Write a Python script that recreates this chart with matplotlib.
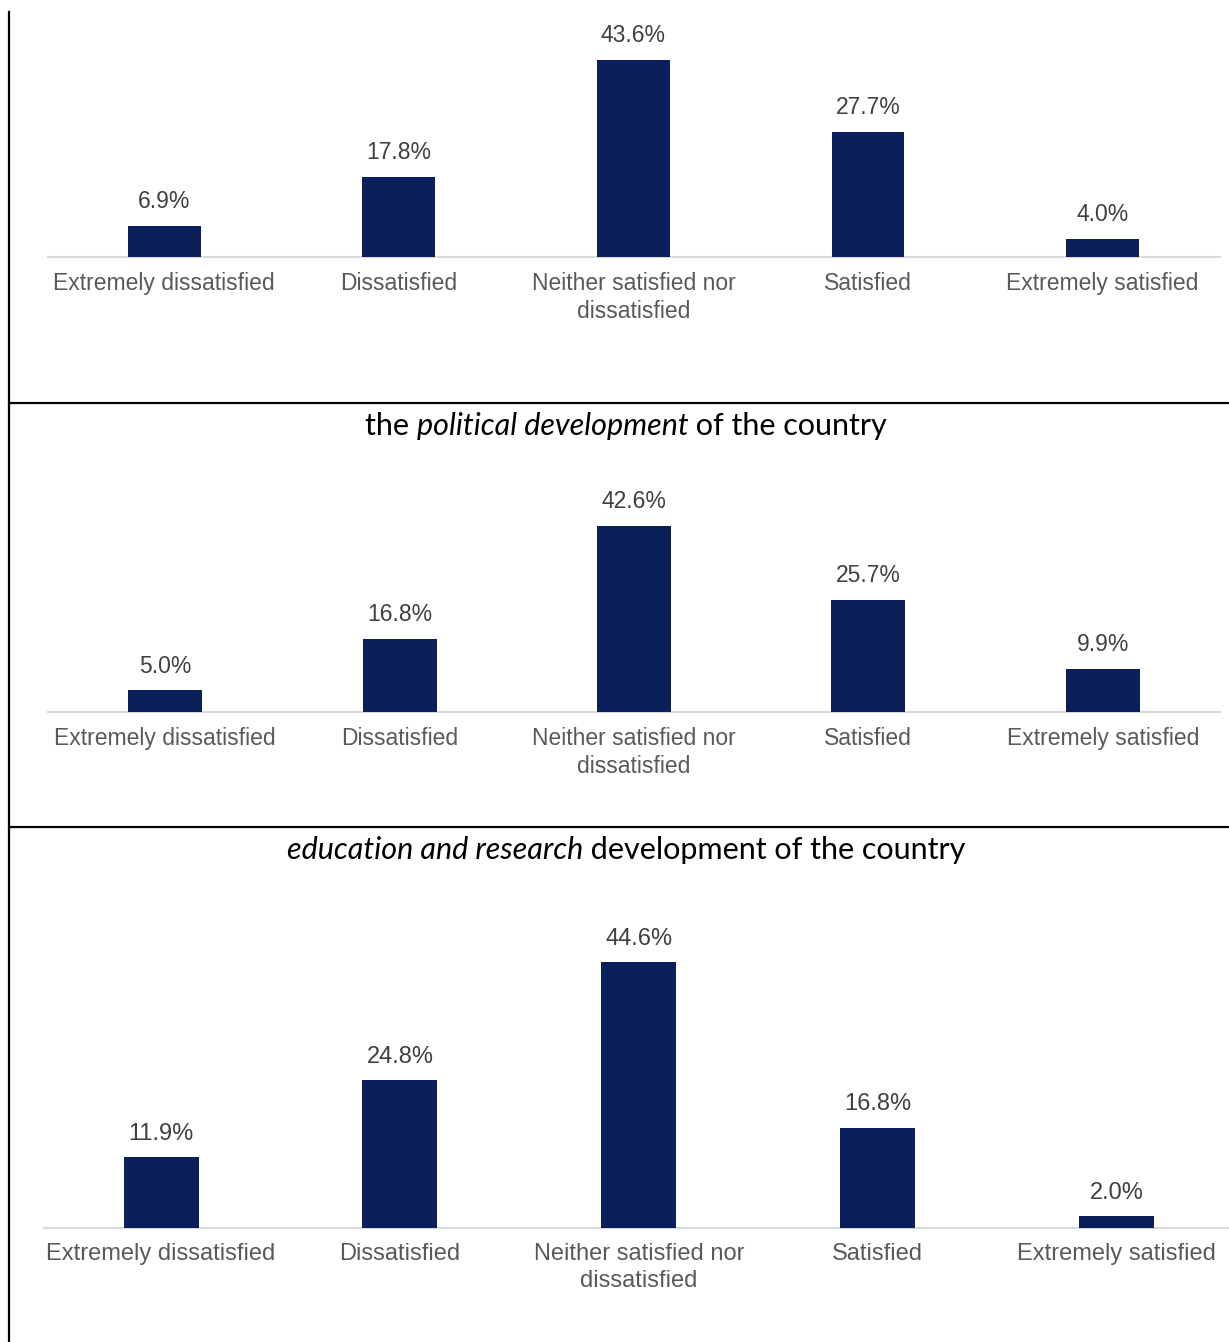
import matplotlib
matplotlib.use("Agg")
import matplotlib.pyplot as plt
from matplotlib.lines import Line2D

W, H = 1229, 1342

categories = ["Extremely dissatisfied", "Dissatisfied",
              "Neither satisfied nor\ndissatisfied", "Satisfied",
              "Extremely satisfied"]
first_vals = [6.9, 17.8, 43.6, 27.7, 4.0]
political_vals = [5.0, 16.8, 42.6, 25.7, 9.9]
education_vals = [11.9, 24.8, 44.6, 16.8, 2.0]

political_title = [("the ", "normal"), ("political development", "italic"),
                   (" of the country", "normal")]
education_title = [("education and research", "italic"),
                   (" development of the country", "normal")]

BAR = "#0b1f5b"
GREY_TXT = "#595959"

fig = plt.figure(figsize=(W / 100, H / 100), dpi=100)


def px_axes(x0, x1, y_base, y_top):
    # pixel box (top-left origin) -> figure fraction
    return fig.add_axes([x0 / W, 1 - y_base / H, (x1 - x0) / W, (y_base - y_top) / H])


def panel(vals, x0, x1, y_base, y_top, px_per_pct, xlim, width, fs):
    ax = px_axes(x0, x1, y_base, y_top)
    x = list(range(len(vals)))
    bars = ax.bar(x, vals, width=width, color=BAR, zorder=3)
    ax.set_xlim(*xlim)
    ax.set_ylim(0, (y_base - y_top) / px_per_pct)
    for b, v in zip(bars, vals):
        ax.annotate(f"{v:.1f}%", (b.get_x() + b.get_width() / 2, v),
                    xytext=(0, 9), textcoords="offset points", ha="center",
                    va="bottom", fontsize=fs, color="#404040",
                    family=["Liberation Sans", "DejaVu Sans"])
    ax.set_xticks(x)
    ax.set_xticklabels(categories, fontsize=fs, color=GREY_TXT,
                       family=["Liberation Sans", "DejaVu Sans"],
                       linespacing=1.25)
    ax.tick_params(axis="x", length=0, pad=11)
    ax.set_yticks([])
    for s in ["top", "right", "left"]:
        ax.spines[s].set_visible(False)
    ax.spines["bottom"].set_color("#d9d9d9")
    ax.spines["bottom"].set_linewidth(1.5)
    ax.patch.set_alpha(0)
    return ax


def mixed_title(parts, y_px, cx=626, fs=22):
    renderer = fig.canvas.get_renderer()
    texts = [fig.text(0, 1 - y_px / H, s, style=st, family="Lato",
                      fontsize=fs, va="center", ha="left", color="black")
             for s, st in parts]
    widths = [t.get_window_extent(renderer).width for t in texts]
    x = cx - sum(widths) / 2
    for t, w in zip(texts, widths):
        t.set_x(x / W)
        x += w


panel(first_vals, 48, 1220, 257, 10, 4.52, (-0.495, 4.5), 0.31, 16.5)
panel(political_vals, 48, 1220, 712, 460, 4.37, (-0.5, 4.5), 0.315, 16.5)
panel(education_vals, 44, 1229, 1228, 880, 5.96, (-0.49, 4.47), 0.314, 17)

mixed_title(political_title, 426)
mixed_title(education_title, 850)

# table borders
lw = 1.6
fig.add_artist(Line2D([9 / W, 9 / W], [0, 1 - 12 / H], color="black", lw=lw,
                      transform=fig.transFigure))
for yb in (403, 827):
    fig.add_artist(Line2D([9 / W, 1], [1 - yb / H] * 2, color="black", lw=lw,
                          transform=fig.transFigure))

fig.savefig("out.png", dpi=100, facecolor="white")
